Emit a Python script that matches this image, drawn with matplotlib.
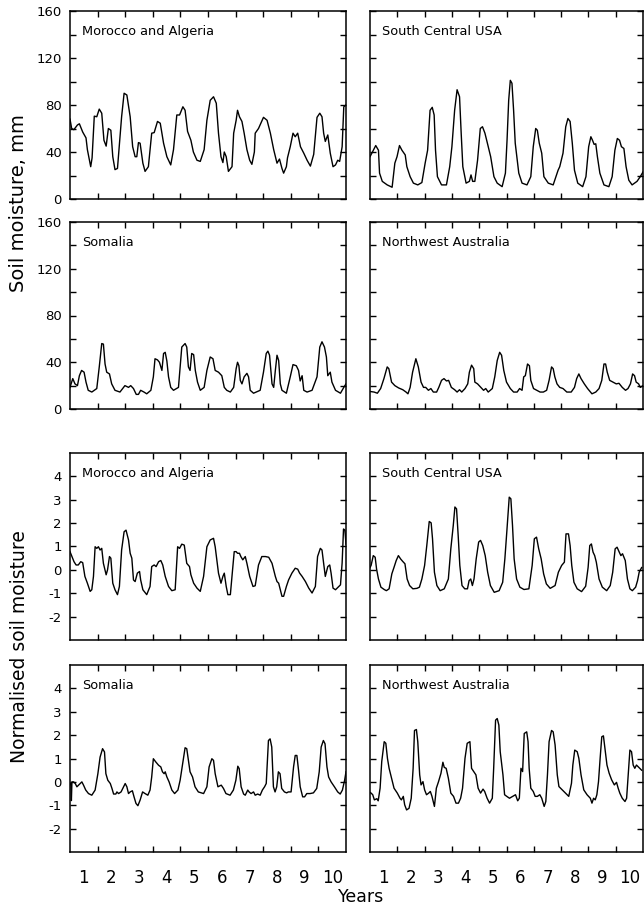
import matplotlib
matplotlib.use("Agg")
import matplotlib.pyplot as plt

# ---------------- data (years since start, value) ----------------
year_labels = ["1", "2", "3", "4", "5", "6", "7", "8", "9", "10"]
titles = ["Morocco and Algeria", "South Central USA", "Somalia", "Northwest Australia"]

# Morocco and Algeria, soil moisture (mm)
ma_mm_t = [0.0, 0.06, 0.14, 0.27, 0.34, 0.46, 0.58, 0.63, 0.75, 0.80,
           0.88, 0.97, 1.06, 1.15, 1.23, 1.31, 1.39, 1.48, 1.55, 1.63,
           1.72, 1.87, 1.96, 2.06, 2.18, 2.27, 2.36, 2.42, 2.48, 2.54,
           2.64, 2.72, 2.84, 2.96, 3.05, 3.17, 3.27, 3.39, 3.51, 3.65,
           3.75, 3.87, 3.97, 4.09, 4.17, 4.26, 4.38, 4.47, 4.60, 4.72,
           4.86, 4.96, 5.08, 5.20, 5.30, 5.38, 5.47, 5.54, 5.59, 5.66,
           5.74, 5.87, 5.93, 6.02, 6.07, 6.14, 6.23, 6.31, 6.41, 6.51,
           6.59, 6.68, 6.71, 6.83, 7.01, 7.14, 7.26, 7.38, 7.50, 7.59,
           7.68, 7.74, 7.84, 7.88, 7.98, 8.08, 8.16, 8.25, 8.35, 8.47,
           8.59, 8.71, 8.83, 8.95, 9.05, 9.13, 9.19, 9.25, 9.34, 9.43,
           9.53, 9.62, 9.70, 9.77, 9.86, 9.92, 10.0]
ma_mm_v = [68, 60, 59, 63, 64, 57, 52, 42, 27.5, 35,
           70.5, 70, 76.5, 73, 50, 45, 60, 58.5, 36, 25,
           26, 70, 90, 88.5, 70, 44.5, 36, 36, 48, 47.5,
           30.5, 23.5, 27.5, 56, 56.5, 66, 64.5, 47.5, 36, 29,
           42, 71.5, 71.5, 78.5, 75.5, 57.5, 50, 40, 33, 32,
           42, 67, 84, 87, 81.5, 56, 36, 31, 40, 36,
           23.5, 27.5, 56, 67, 75.5, 70, 66, 56, 42, 33,
           29.5, 40, 56, 60, 69.5, 67, 56, 42, 30.5, 34,
           26, 22, 27.5, 35, 44.5, 56, 53, 56, 44.5, 39,
           33, 28, 38, 69.5, 73, 70, 56, 49, 54.5, 39,
           27.5, 29, 33, 32, 44.5, 78.5, 80]

# South Central USA, soil moisture (mm)
sc_mm_t = [0.0, 0.09, 0.21, 0.31, 0.35, 0.45, 0.63, 0.81, 0.91, 0.99,
           1.08, 1.17, 1.29, 1.35, 1.47, 1.59, 1.75, 1.90, 2.02, 2.11,
           2.20, 2.28, 2.35, 2.40, 2.47, 2.62, 2.80, 2.92, 3.00, 3.10,
           3.19, 3.28, 3.34, 3.40, 3.52, 3.64, 3.70, 3.76, 3.84, 3.94,
           4.04, 4.12, 4.21, 4.30, 4.42, 4.54, 4.66, 4.84, 4.96, 5.02,
           5.08, 5.14, 5.20, 5.26, 5.32, 5.45, 5.57, 5.75, 5.89, 5.98,
           6.07, 6.13, 6.20, 6.29, 6.37, 6.53, 6.71, 6.89, 6.95, 7.07,
           7.17, 7.25, 7.33, 7.41, 7.49, 7.61, 7.79, 7.91, 8.01, 8.09,
           8.15, 8.21, 8.27, 8.33, 8.42, 8.57, 8.75, 8.87, 8.97, 9.06,
           9.14, 9.21, 9.30, 9.38, 9.48, 9.60, 9.78, 9.90, 10.0]
sc_mm_v = [36, 40, 45.5, 41.5, 22, 15, 12, 10, 30.5, 36,
           45.5, 41.5, 37.5, 27.5, 19, 13.5, 12, 14, 30.5, 41.5,
           75.5, 78, 71.5, 41.5, 19, 12, 12, 27.5, 44.5, 75.5,
           93, 87, 56, 27.5, 13.5, 15, 20.5, 15, 15, 33,
           60, 61.5, 56, 47.5, 36, 19, 13.5, 10.5, 22, 50,
           84, 101, 98.5, 75.5, 47.5, 22, 13.5, 12, 19, 44.5,
           60, 58.5, 47.5, 39, 19, 13.5, 12, 24.5, 27.5, 39,
           61.5, 68.5, 66, 47.5, 24.5, 13.5, 10.5, 19, 44.5, 53,
           50, 46.5, 47, 36, 22, 12, 10.5, 19, 41.5, 51.5,
           50, 44.5, 43, 27.5, 16, 12, 15, 19, 23]

# Somalia, soil moisture (mm)
so_mm_t = [0.0, 0.10, 0.18, 0.27, 0.34, 0.42, 0.51, 0.58, 0.66, 0.79,
           0.97, 1.06, 1.15, 1.21, 1.27, 1.33, 1.43, 1.51, 1.63, 1.81,
           1.99, 2.12, 2.20, 2.30, 2.40, 2.48, 2.56, 2.68, 2.78, 2.93,
           3.02, 3.08, 3.17, 3.24, 3.33, 3.39, 3.45, 3.51, 3.57, 3.65,
           3.75, 3.93, 4.05, 4.17, 4.23, 4.29, 4.35, 4.41, 4.48, 4.54,
           4.62, 4.72, 4.86, 4.96, 5.08, 5.18, 5.26, 5.38, 5.50, 5.59,
           5.68, 5.81, 5.93, 6.02, 6.07, 6.12, 6.17, 6.23, 6.31, 6.41,
           6.47, 6.53, 6.65, 6.89, 7.01, 7.11, 7.17, 7.23, 7.32, 7.38,
           7.44, 7.50, 7.56, 7.62, 7.68, 7.84, 7.98, 8.08, 8.20, 8.28,
           8.34, 8.41, 8.47, 8.59, 8.77, 8.95, 9.05, 9.13, 9.22, 9.29,
           9.34, 9.43, 9.49, 9.62, 9.80, 9.92, 10.0]
so_mm_v = [18.5, 26, 21.5, 20, 28.5, 33, 31.5, 23, 16, 14.5,
           17.5, 36, 56, 55.5, 38.5, 31.5, 30, 21.5, 16, 14.5,
           20, 18.5, 20, 17.5, 12.5, 12.5, 16, 14.5, 13, 16,
           27.5, 43, 42, 40, 33, 47.5, 48.5, 41, 27.5, 18.5,
           16, 18.5, 53, 56, 53, 36, 33, 47.5, 46.5, 33,
           23, 16, 18.5, 33, 44.5, 43, 33, 31.5, 28.5, 18.5,
           16, 14.5, 18.5, 34.5, 40, 37, 24.5, 21.5, 27.5, 30.5,
           27.5, 16, 13.5, 16, 31.5, 47.5, 49.5, 46, 21.5, 18.5,
           33, 46, 41.5, 21.5, 16, 13.5, 27.5, 38, 37, 33,
           24, 28.5, 16, 14.5, 16, 27.5, 53, 57.5, 53, 44.5,
           28.5, 31.5, 23, 16, 13.5, 18.5, 21.5]

# Northwest Australia, soil moisture (mm)
nw_mm_t = [0.0, 0.15, 0.27, 0.39, 0.51, 0.63, 0.69, 0.79, 0.91, 1.05,
           1.20, 1.32, 1.39, 1.47, 1.56, 1.68, 1.77, 1.87, 1.96, 2.04,
           2.14, 2.23, 2.32, 2.44, 2.52, 2.62, 2.71, 2.80, 2.88, 2.98,
           3.10, 3.19, 3.28, 3.36, 3.48, 3.58, 3.64, 3.72, 3.80, 3.84,
           3.94, 4.06, 4.16, 4.24, 4.33, 4.48, 4.57, 4.66, 4.75, 4.82,
           4.90, 5.00, 5.14, 5.26, 5.39, 5.48, 5.57, 5.63, 5.69, 5.77,
           5.84, 5.89, 5.99, 6.11, 6.23, 6.35, 6.47, 6.56, 6.65, 6.71,
           6.77, 6.85, 6.95, 7.07, 7.21, 7.37, 7.49, 7.57, 7.65, 7.73,
           7.85, 7.97, 8.13, 8.27, 8.39, 8.49, 8.57, 8.63, 8.69, 8.78,
           8.90, 9.02, 9.12, 9.24, 9.36, 9.45, 9.54, 9.62, 9.69, 9.75,
           9.84, 9.90, 10.0]
nw_mm_v = [15, 14.5, 13.5, 17.5, 26, 36, 34.5, 23, 20, 18,
           16.5, 14.5, 13, 18.5, 31.5, 43, 36, 23, 18.5, 18.5,
           16, 17.5, 14.5, 14.5, 18.5, 24.5, 26, 24, 24.5, 18.5,
           16.5, 14.5, 16.5, 14.5, 17.5, 21.5, 31.5, 37.5, 34.5, 23,
           21.5, 18.5, 16, 17.5, 14.5, 17.5, 27.5, 41.5, 48.5, 46,
           33, 23, 17.5, 14.5, 14.5, 17.5, 16, 27.5, 28.5, 38.5,
           37, 24.5, 17.5, 16, 14.5, 14.5, 16, 24.5, 36, 34.5,
           27.5, 21.5, 18.5, 17.5, 14.5, 14.5, 18.5, 26, 30, 26,
           21.5, 17.5, 13, 14.5, 17.5, 24.5, 38.5, 38.5, 31.5, 24.5,
           23, 21.5, 22, 18.5, 16, 17.5, 21.5, 30, 28.5, 23,
           21.5, 18.5, 20]

# Morocco and Algeria, normalised
ma_n_t = [0.0, 0.145, 0.22, 0.30, 0.39, 0.46, 0.54, 0.63, 0.73, 0.79,
          0.85, 0.91, 0.97, 1.03, 1.09, 1.15, 1.21, 1.31, 1.36, 1.43,
          1.48, 1.55, 1.63, 1.72, 1.79, 1.87, 1.96, 2.03, 2.12, 2.18,
          2.24, 2.30, 2.36, 2.44, 2.52, 2.56, 2.64, 2.78, 2.90, 2.96,
          3.05, 3.12, 3.21, 3.29, 3.36, 3.45, 3.57, 3.69, 3.81, 3.90,
          3.97, 4.05, 4.14, 4.23, 4.33, 4.38, 4.48, 4.60, 4.72, 4.84,
          4.96, 5.08, 5.20, 5.26, 5.38, 5.47, 5.54, 5.59, 5.66, 5.72,
          5.81, 5.89, 5.95, 6.02, 6.07, 6.14, 6.19, 6.26, 6.35, 6.41,
          6.51, 6.63, 6.71, 6.83, 6.95, 7.08, 7.20, 7.32, 7.44, 7.50,
          7.56, 7.62, 7.68, 7.74, 7.84, 7.92, 8.04, 8.16, 8.25, 8.32,
          8.41, 8.53, 8.65, 8.77, 8.89, 8.97, 9.07, 9.13, 9.19, 9.25,
          9.34, 9.41, 9.46, 9.53, 9.62, 9.74, 9.80, 9.86, 9.91, 9.96,
          10.0]
ma_n_v = [0.78, 0.35, 0.21, 0.21, 0.35, 0.31, -0.28, -0.57, -0.92, -0.85,
          -0.28, 0.99, 0.92, 0.99, 0.85, 0.92, 0.28, -0.21, 0.0, 0.57,
          0.50, -0.57, -0.85, -1.06, -0.71, 0.85, 1.63, 1.70, 1.28, 0.71,
          0.50, -0.43, -0.50, -0.14, -0.07, -0.43, -0.85, -1.06, -0.71, 0.14,
          0.21, 0.14, 0.35, 0.40, 0.21, -0.28, -0.71, -0.89, -0.85, 0.99,
          0.92, 1.10, 1.06, 0.28, 0.14, -0.21, -0.57, -0.78, -0.92, -0.28,
          0.99, 1.28, 1.35, 0.99, -0.14, -0.57, -0.28, -0.14, -0.71, -1.06,
          -1.06, 0.0, 0.78, 0.78, 0.71, 0.71, 0.57, 0.43, 0.57, 0.28,
          -0.28, -0.71, -0.68, 0.21, 0.57, 0.57, 0.54, 0.28, -0.28, -0.50,
          -0.57, -0.85, -1.13, -1.13, -0.71, -0.43, -0.14, 0.07, 0.03, -0.14,
          -0.28, -0.50, -0.78, -0.99, -0.71, 0.57, 0.92, 0.85, 0.28, -0.28,
          0.14, 0.21, -0.14, -0.78, -0.85, -0.71, -0.64, 0.30, 1.75, 1.70,
          1.10]

# South Central USA, normalised
sc_n_t = [0.0, 0.04, 0.12, 0.19, 0.24, 0.31, 0.40, 0.52, 0.60, 0.70,
          0.80, 0.88, 0.96, 1.04, 1.12, 1.20, 1.28, 1.36, 1.45, 1.57,
          1.72, 1.81, 1.90, 2.00, 2.08, 2.17, 2.24, 2.29, 2.36, 2.45,
          2.57, 2.72, 2.87, 2.96, 3.05, 3.11, 3.17, 3.23, 3.29, 3.37,
          3.47, 3.57, 3.63, 3.69, 3.75, 3.81, 3.89, 3.98, 4.05, 4.13,
          4.22, 4.31, 4.41, 4.55, 4.73, 4.86, 4.94, 5.01, 5.10, 5.16,
          5.22, 5.28, 5.37, 5.49, 5.64, 5.82, 5.94, 6.02, 6.10, 6.18,
          6.27, 6.36, 6.46, 6.60, 6.78, 6.90, 7.02, 7.12, 7.18, 7.27,
          7.33, 7.39, 7.47, 7.59, 7.75, 7.90, 7.99, 8.05, 8.11, 8.17,
          8.23, 8.29, 8.39, 8.51, 8.67, 8.80, 8.89, 8.98, 9.05, 9.13,
          9.19, 9.25, 9.35, 9.43, 9.52, 9.61, 9.73, 9.80, 9.86, 9.95]
sc_n_v = [0.10, 0.19, 0.61, 0.54, 0.04, -0.39, -0.74, -0.84, -0.89, -0.81,
          -0.17, 0.11, 0.40, 0.61, 0.47, 0.36, 0.26, -0.39, -0.67, -0.81,
          -0.79, -0.74, -0.39, 0.19, 1.04, 2.07, 2.01, 1.33, -0.10, -0.67,
          -0.89, -0.81, -0.39, 0.90, 1.90, 2.69, 2.61, 1.47, 0.19, -0.67,
          -0.81, -0.81, -0.46, -0.39, -0.67, -0.39, 0.47, 1.19, 1.26, 1.04,
          0.61, -0.10, -0.67, -0.96, -0.89, -0.53, 0.47, 1.61, 3.11, 3.04,
          1.90, 0.47, -0.39, -0.74, -0.84, -0.81, 0.19, 1.33, 1.40, 0.90,
          0.47, -0.17, -0.60, -0.79, -0.67, -0.10, 0.19, 0.33, 1.54, 1.54,
          1.04, 0.19, -0.53, -0.81, -0.93, -0.70, 0.11, 1.04, 1.11, 0.76,
          0.61, 0.33, -0.39, -0.74, -0.89, -0.67, -0.10, 0.90, 0.97, 0.76,
          0.61, 0.69, 0.40, -0.39, -0.81, -0.89, -0.74, -0.46, -0.10, 0.10]

# Somalia, normalised
so_n_t = [0.0, 0.03, 0.05, 0.07, 0.13, 0.19, 0.25, 0.31, 0.43, 0.49,
          0.57, 0.67, 0.79, 0.91, 1.01, 1.09, 1.18, 1.25, 1.30, 1.37,
          1.46, 1.52, 1.58, 1.66, 1.70, 1.76, 1.85, 1.94, 2.00, 2.06,
          2.12, 2.18, 2.26, 2.32, 2.39, 2.46, 2.54, 2.63, 2.72, 2.82,
          2.90, 2.96, 3.02, 3.11, 3.21, 3.29, 3.35, 3.41, 3.45, 3.51,
          3.59, 3.69, 3.79, 3.91, 3.99, 4.08, 4.17, 4.23, 4.29, 4.35,
          4.44, 4.53, 4.65, 4.84, 4.96, 5.04, 5.14, 5.20, 5.26, 5.36,
          5.48, 5.56, 5.65, 5.80, 5.92, 6.01, 6.08, 6.13, 6.20, 6.29,
          6.35, 6.44, 6.49, 6.56, 6.65, 6.71, 6.80, 6.89, 6.97, 7.05,
          7.11, 7.19, 7.25, 7.31, 7.37, 7.43, 7.49, 7.55, 7.61, 7.67,
          7.77, 7.85, 7.91, 8.01, 8.10, 8.16, 8.22, 8.28, 8.34, 8.43,
          8.50, 8.58, 8.70, 8.82, 8.94, 9.03, 9.10, 9.18, 9.24, 9.31,
          9.37, 9.46, 9.58, 9.70, 9.79, 9.87, 9.95, 10.0]
so_n_v = [-0.10, -0.05, -0.80, 0.0, 0.0, -0.07, -0.21, -0.14, 0.0, -0.14,
          -0.35, -0.50, -0.57, -0.35, 0.35, 1.06, 1.42, 1.28, 0.35, 0.07,
          -0.07, -0.28, -0.52, -0.52, -0.43, -0.50, -0.43, -0.21, -0.07, -0.21,
          -0.50, -0.43, -0.38, -0.64, -0.92, -1.02, -0.78, -0.43, -0.50, -0.57,
          -0.35, 0.21, 0.99, 0.85, 0.71, 0.64, 0.43, 0.35, 0.43, 0.21,
          0.0, -0.35, -0.50, -0.35, 0.07, 0.78, 1.46, 1.42, 0.92, 0.43,
          0.21, -0.21, -0.43, -0.50, -0.21, 0.64, 0.99, 0.92, 0.35, -0.21,
          -0.14, -0.28, -0.50, -0.57, -0.35, 0.07, 0.67, 0.57, -0.21, -0.52,
          -0.57, -0.35, -0.43, -0.50, -0.43, -0.57, -0.52, -0.57, -0.35, -0.21,
          -0.07, 1.77, 1.84, 1.49, -0.21, -0.43, -0.21, 0.43, 0.35, -0.28,
          -0.43, -0.47, -0.43, -0.43, 0.64, 1.13, 1.13, 0.50, -0.21, -0.64,
          -0.64, -0.50, -0.50, -0.47, -0.28, 0.43, 1.49, 1.77, 1.63, 0.64,
          0.21, 0.0, -0.21, -0.43, -0.52, -0.35, 0.07, 0.43]

# Northwest Australia, normalised
nw_n_t = [0.0, 0.04, 0.10, 0.16, 0.25, 0.30, 0.37, 0.43, 0.52, 0.58,
          0.64, 0.70, 0.79, 0.88, 1.00, 1.10, 1.15, 1.22, 1.27, 1.34,
          1.43, 1.51, 1.58, 1.63, 1.70, 1.75, 1.82, 1.87, 1.94, 2.00,
          2.07, 2.15, 2.21, 2.27, 2.36, 2.43, 2.51, 2.60, 2.67, 2.72,
          2.79, 2.87, 2.96, 3.06, 3.15, 3.24, 3.32, 3.39, 3.48, 3.56,
          3.66, 3.72, 3.80, 3.88, 3.96, 4.05, 4.14, 4.20, 4.29, 4.38,
          4.48, 4.53, 4.60, 4.66, 4.72, 4.77, 4.87, 4.93, 5.01, 5.11,
          5.23, 5.33, 5.41, 5.47, 5.53, 5.59, 5.65, 5.74, 5.79, 5.83,
          5.89, 5.98, 6.05, 6.13, 6.22, 6.29, 6.38, 6.44, 6.50, 6.56,
          6.65, 6.71, 6.78, 6.86, 6.92, 7.04, 7.16, 7.28, 7.38, 7.43,
          7.50, 7.59, 7.65, 7.73, 7.83, 7.95, 8.07, 8.13, 8.19, 8.25,
          8.31, 8.37, 8.43, 8.49, 8.55, 8.62, 8.68, 8.76, 8.85, 8.95,
          9.03, 9.09, 9.15, 9.24, 9.34, 9.40, 9.46, 9.52, 9.58, 9.64,
          9.70, 9.76, 9.82, 9.95]
nw_n_v = [-0.45, -0.48, -0.55, -0.77, -0.72, -0.81, -0.27, 0.87, 1.72, 1.65,
          1.00, 0.58, 0.16, -0.27, -0.48, -0.70, -0.77, -0.62, -0.98, -1.20,
          -1.13, -0.70, 0.58, 2.20, 2.24, 1.72, 0.30, -0.13, 0.01, -0.34,
          -0.55, -0.48, -0.41, -0.62, -1.05, -0.27, 0.01, 0.37, 0.84, 0.62,
          0.58, 0.16, -0.48, -0.62, -0.91, -0.91, -0.70, -0.27, 1.01, 1.65,
          1.72, 0.58, 0.44, 0.30, -0.27, -0.48, -0.31, -0.41, -0.70, -0.91,
          -0.70, 0.58, 2.64, 2.71, 2.43, 1.29, 0.30, -0.55, -0.62, -0.70,
          -0.62, -0.55, -0.81, -0.70, 0.58, 0.44, 2.07, 2.14, 1.72, 0.58,
          -0.27, -0.41, -0.62, -0.62, -0.55, -0.70, -1.05, -0.84, 0.30, 1.72,
          2.20, 2.14, 1.58, 0.30, -0.20, -0.34, -0.48, -0.62, -0.06, 0.72,
          1.36, 1.29, 1.01, 0.30, -0.34, -0.55, -0.70, -0.91, -0.70, -0.77,
          -0.55, 0.01, 1.01, 1.93, 1.97, 1.29, 0.72, 0.37, 0.09, -0.13,
          -0.02, -0.27, -0.48, -0.70, -0.84, -0.70, 0.30, 1.36, 1.29, 0.72,
          0.58, 0.72, 0.65, 0.50]

mm_ticks = [0, 20, 40, 60, 80, 100, 120, 140, 160]
mm_labels = ["0", "", "40", "", "80", "", "120", "", "160"]
n_ticks = [-2, -1, 0, 1, 2, 3, 4]
n_labels = ["-2", "-1", "0", "1", "2", "3", "4"]

# ---------------- layout ----------------
W, H = 644, 916
fig = plt.figure(figsize=(W / 100, H / 100), dpi=100)
plt.rcParams["font.family"] = ["DejaVu Sans"]

col_x = [(70, 276), (370, 273)]
row_y = [(11, 199), (222, 409), (453, 640), (665, 852)]

panels = [
    (ma_mm_t, ma_mm_v, titles[0], "mm", 0, 0),
    (sc_mm_t, sc_mm_v, titles[1], "mm", 0, 1),
    (so_mm_t, so_mm_v, titles[2], "mm", 1, 0),
    (nw_mm_t, nw_mm_v, titles[3], "mm", 1, 1),
    (ma_n_t, ma_n_v, titles[0], "n", 2, 0),
    (sc_n_t, sc_n_v, titles[1], "n", 2, 1),
    (so_n_t, so_n_v, titles[2], "n", 3, 0),
    (nw_n_t, nw_n_v, titles[3], "n", 3, 1),
]

for t, v, title, kind, r, c in panels:
    x0, w = col_x[c]
    top, bot = row_y[r]
    ax = fig.add_axes([x0 / W, 1 - bot / H, w / W, (bot - top) / H])
    ax.plot(t, v, color="black", lw=1.0)
    ax.set_xlim(0, 10)
    if kind == "mm":
        ax.set_ylim(0, 160)
        ax.set_yticks(mm_ticks)
        ax.set_yticklabels(mm_labels)
    else:
        ax.set_ylim(-3, 5)
        ax.set_yticks(n_ticks)
        ax.set_yticklabels(n_labels)
    if c == 1:
        ax.tick_params(axis="y", labelleft=False)
    ax.set_xticks(range(1, 10))
    ax.set_xticklabels([])
    ax.tick_params(which="major", direction="in", length=4.5, width=1.0,
                   top=True, right=True, labelsize=9.5, pad=6)
    if r == 3:
        ax.set_xticks([i + 0.5 for i in range(10)], minor=True)
        ax.set_xticklabels(year_labels, minor=True, fontsize=12)
        ax.tick_params(axis="x", which="minor", length=0, pad=12)
    for s in ax.spines.values():
        s.set_linewidth(1.1)
    ax.text(0.045, 0.89, title, transform=ax.transAxes, fontsize=9.3,
            ha="left", va="center")

fig.text(0.029, 0.778, "Soil moisture, mm", rotation=90, fontsize=14,
         ha="center", va="center")
fig.text(0.031, 0.294, "Normalised soil moisture", rotation=90, fontsize=13.5,
         ha="center", va="center")
fig.text(0.5606, 0.0207, "Years", fontsize=12.5, ha="center", va="center")

fig.savefig("out.png", dpi=100)
